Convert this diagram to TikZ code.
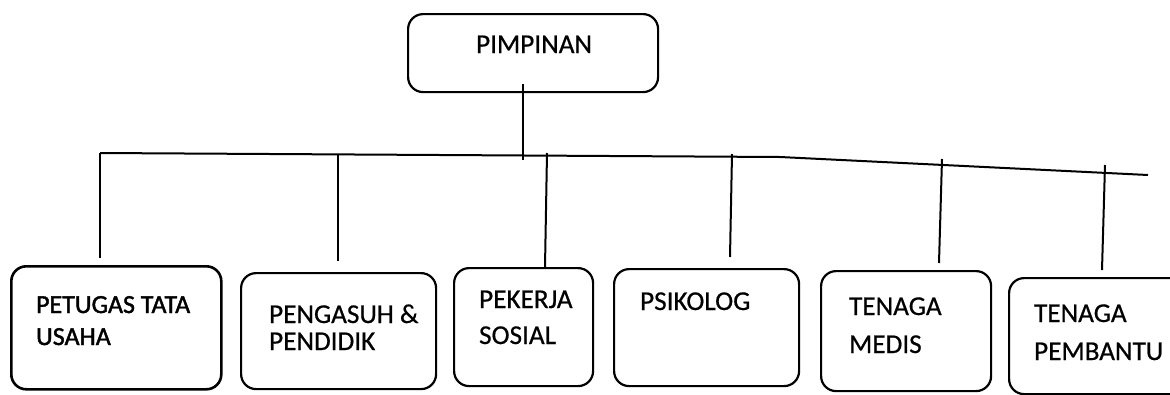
\documentclass[tikz,border=0pt]{standalone}
\usepackage{fontspec}
\setmainfont{Carlito}[FakeBold=0.6]
\newfontfamily\heavyfont{Carlito}[FakeBold=1.6]
\begin{document}
\begin{tikzpicture}[x=1pt,y=-1pt,
  line width=2.2pt,
  box/.style={draw, rounded corners=15pt, inner sep=0pt, anchor=north west},
  lbl/.style={anchor=base west, inner sep=0pt, font=\fontsize{27.2}{32}\selectfont},
  wire/.style={line width=2pt}]
\useasboundingbox (0,0) rectangle (1170,394);
\begin{scope}
\clip (0,0) rectangle (1170,394);
% top box
\node[box, minimum width=250pt, minimum height=78pt] (top) at (407,13) {};
\node[lbl] (ttop) at (475,53) {PIMPINAN};
% lower boxes
\node[box, minimum width=210pt, minimum height=123pt, line width=2.6pt] (b1) at (10,265) {};
\node[box, minimum width=195pt, minimum height=116pt] (b2) at (240,272) {};
\node[box, minimum width=139pt, minimum height=118pt] (b3) at (453,267) {};
\node[box, minimum width=185pt, minimum height=117pt] (b4) at (613,268) {};
\node[box, minimum width=170pt, minimum height=120pt] (b5) at (820,270) {};
\node[box, minimum width=190pt, minimum height=116pt] (b6) at (1008,277) {};
% labels
\node[lbl, font=\fontsize{26}{32}\heavyfont] (t1a) at (35,313) {PETUGAS TATA};
\node[lbl, font=\fontsize{26}{32}\heavyfont] (t1b) at (35,345) {USAHA};
\node[lbl] (t2a) at (268,323) {PENGASUH \&};
\node[lbl] (t2b) at (268,350) {PENDIDIK};
\node[lbl] (t3a) at (478,308) {PEKERJA};
\node[lbl] (t3b) at (478,344) {SOSIAL};
\node[lbl] (t4a) at (639,310) {PSIKOLOG};
\node[lbl] (t5a) at (848,315) {TENAGA};
\node[lbl] (t5b) at (848,353) {MEDIS};
\node[lbl] (t6a) at (1033,322) {TENAGA};
\node[lbl] (t6b) at (1033,360) {PEMBANTU};
% bus
\coordinate (busL) at (100,153);
\coordinate (busM) at (780,157);
\coordinate (busR) at (1148,175);
\coordinate (c0) at (523,160);
\coordinate (c1) at (100,153);
\coordinate (c2) at (338,155);
\coordinate (c3) at (547,153);
\coordinate (c4) at (732,154);
\coordinate (c5) at (942,159);
\coordinate (c6) at (1105,165);
\draw[wire] (busL) -- (busM) -- (busR);
\draw[wire] (top.south -| c0) ++(0,-9) -- (c0);
\draw[wire] (c1) -- (100,258);
\draw[wire] (c2) -- (338,261);
\draw[wire] (c3) -- (b3.north -| 545,0);
\draw[wire] (c4) -- (730,257);
\draw[wire] (c5) -- (939,263);
\draw[wire] (c6) -- (1102,270);
\end{scope}
\end{tikzpicture}
\end{document}
